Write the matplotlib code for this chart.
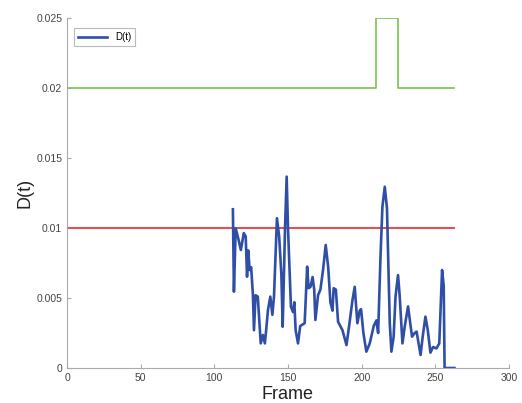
import numpy as np
import matplotlib.pyplot as plt

plt.rcParams['font.family'] = ['Liberation Sans', 'DejaVu Sans']

# D(t) per frame
frames = [112.6, 113.3, 114.5, 116.5, 118, 120, 121.3, 122.2, 123, 124, 125,
          126.2, 126.9, 128, 129.5, 131.5, 133, 134.3, 135, 136.4, 138,
          139.4, 140.5, 142.5, 144, 145.5, 146.4, 148, 149.1, 150, 152,
          153.4, 154.3, 155.2, 156.8, 158.3, 161.3, 162, 163, 164, 165.3,
          166.7, 167.8, 168.6, 170.4, 172, 173.8, 175.6, 177.3, 178.8, 180.2,
          181, 182.5, 184, 185.5, 187, 189.7, 191.5, 193.7, 195.3, 197.1,
          198.7, 199.6, 201.2, 203.2, 205.5, 208.2, 210, 211.2, 212.8, 214.1,
          215.7, 217.2, 219.1, 220.2, 221.7, 223, 224.7, 225.8, 227.7, 229.3,
          231.5, 234.2, 236, 237.3, 240, 241.4, 243.3, 244.9, 246.7, 248.5,
          250.8, 252.7, 254.6, 255.7, 256.3, 263]
d_values = [0.01134, 0.00545, 0.00998, 0.00914, 0.00843, 0.00964, 0.0094,
            0.00652, 0.0084, 0.0070, 0.0072, 0.00521, 0.0027, 0.0052, 0.0051,
            0.00176, 0.00236, 0.00176, 0.0025, 0.00414, 0.0051, 0.0038,
            0.0051, 0.0107, 0.0094, 0.0067, 0.00295, 0.0100, 0.01367, 0.0100,
            0.00438, 0.0040, 0.0047, 0.0027, 0.00176, 0.0030, 0.0032, 0.0048,
            0.00724, 0.0057, 0.0058, 0.0065, 0.0056, 0.00343, 0.0052, 0.0056,
            0.0070, 0.00879, 0.0072, 0.0047, 0.0041, 0.0057, 0.0056, 0.0033,
            0.0030, 0.0027, 0.00164, 0.0030, 0.0048, 0.0058, 0.0032, 0.0041,
            0.0042, 0.0025, 0.00117, 0.00176, 0.0030, 0.0034, 0.0025, 0.00795,
            0.01152, 0.01295, 0.0114, 0.0032, 0.00117, 0.0022, 0.0051, 0.00664,
            0.0052, 0.00176, 0.0030, 0.0044, 0.00224, 0.0025, 0.0026, 0.00093,
            0.0022, 0.00367, 0.0027, 0.0011, 0.0015, 0.0014, 0.00176, 0.0070,
            0.0059, 0.0, 0.0]

# threshold lines
red_x = [0, 263]
red_y = [0.01, 0.01]
green_x = [0, 210, 210, 225, 225, 263]
green_y = [0.02, 0.02, 0.025, 0.025, 0.02, 0.02]

fig = plt.figure(figsize=(5.22, 4.03), dpi=100)
ax = fig.add_axes([0.1284, 0.0868, 0.8466, 0.8685])

ax.plot(green_x, green_y, color='#78c44c', lw=1.2)
ax.plot(red_x, red_y, color='#e05252', lw=1.5)
ax.plot(frames, d_values, color='#2f4ea6', lw=1.9, label='D(t)')

ax.set_xlim(0, 300)
ax.set_ylim(0, 0.025)
ax.set_xticks(np.arange(0, 301, 50))
ax.set_yticks([0, 0.005, 0.01, 0.015, 0.02, 0.025])
ax.set_yticklabels(['0', '0.005', '0.01', '0.015', '0.02', '0.025'])

for s in ['top', 'right']:
    ax.spines[s].set_visible(False)
for s in ['left', 'bottom']:
    ax.spines[s].set_color('#aaaaaa')
ax.tick_params(direction='in', length=3, colors='#aaaaaa', labelcolor='#444444',
               labelsize=7.5)

ax.set_xlabel('Frame', fontsize=13, color='#222222', labelpad=2)
ax.set_ylabel('D(t)', fontsize=13, color='#222222', labelpad=2)

leg = ax.legend(loc='upper left', fontsize=7, frameon=True, fancybox=False,
                handlelength=3, borderpad=0.4, bbox_to_anchor=(0.005, 0.985))
leg.get_frame().set_edgecolor('#aaaaaa')
leg.get_frame().set_linewidth(0.8)

fig.savefig('out.png', dpi=100)
